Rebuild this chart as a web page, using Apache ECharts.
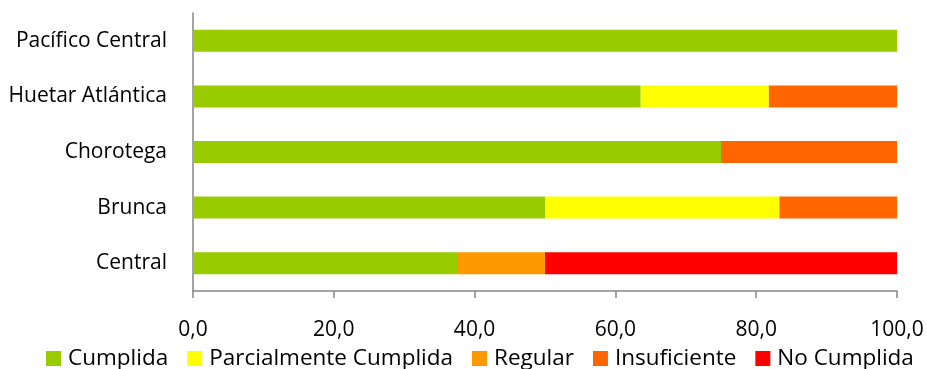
<!DOCTYPE html>
<html><head><meta charset="utf-8">
<script src="https://cdn.jsdelivr.net/npm/echarts@6/dist/echarts.min.js"></script>
<style>html,body{margin:0;padding:0;background:#fff}#c{width:927px;height:369px}</style>
</head><body><div id="c"></div>
<script>
const categories = ['Central', 'Brunca', 'Chorotega', 'Huetar Atlántica', 'Pacífico Central'];
const seriesNames = ['Cumplida', 'Parcialmente Cumplida', 'Regular', 'Insuficiente', 'No Cumplida'];
const cumplida = [37.5, 50.0, 75.0, 63.6, 100.0];
const parcial = [0, 33.3, 0, 18.2, 0];
const regular = [12.5, 0, 0, 0, 0];
const insuficiente = [0, 16.7, 25.0, 18.2, 0];
const noCumplida = [50.0, 0, 0, 0, 0];
const colors = ['#99CC00', '#FFFF00', '#FF9900', '#FF6600', '#FF0000'];
const values = [cumplida, parcial, regular, insuficiente, noCumplida];
const font = '"Open Sans", "Noto Sans", sans-serif';

const chart = echarts.init(document.getElementById('c'), null, {renderer: 'canvas'});
chart.setOption({
  animation: false,
  backgroundColor: '#fff',
  textStyle: {fontFamily: font},
  grid: {left: 193, right: 30, top: 13, bottom: 78, containLabel: false},
  legend: {
    data: seriesNames,
    top: 347,
    left: 46,
    padding: 0,
    itemWidth: 15, itemHeight: 15, itemGap: 19,
    icon: 'rect',
    textStyle: {fontSize: 22.5, color: '#000', fontFamily: font, padding: [0, 0, 0, 2]}
  },
  xAxis: {
    type: 'value', min: 0, max: 100, interval: 20,
    axisLine: {show: true, lineStyle: {color: '#868686', width: 1.5}},
    axisTick: {show: true, length: 7, lineStyle: {color: '#868686', width: 1.5}},
    splitLine: {show: false},
    axisLabel: {fontSize: 21, color: '#000', margin: 29, fontFamily: font,
      formatter: v => v.toFixed(1).replace('.', ',')}
  },
  yAxis: {
    type: 'category', data: categories,
    axisLine: {show: true, lineStyle: {color: '#868686', width: 1.5}},
    axisTick: {show: false},
    axisLabel: {fontSize: 21, color: '#000', margin: 26, fontFamily: font}
  },
  series: seriesNames.map((n, i) => ({
    name: n, type: 'bar', stack: 'total', barWidth: 22,
    itemStyle: {color: colors[i]},
    data: values[i]
  }))
});
</script></body></html>
